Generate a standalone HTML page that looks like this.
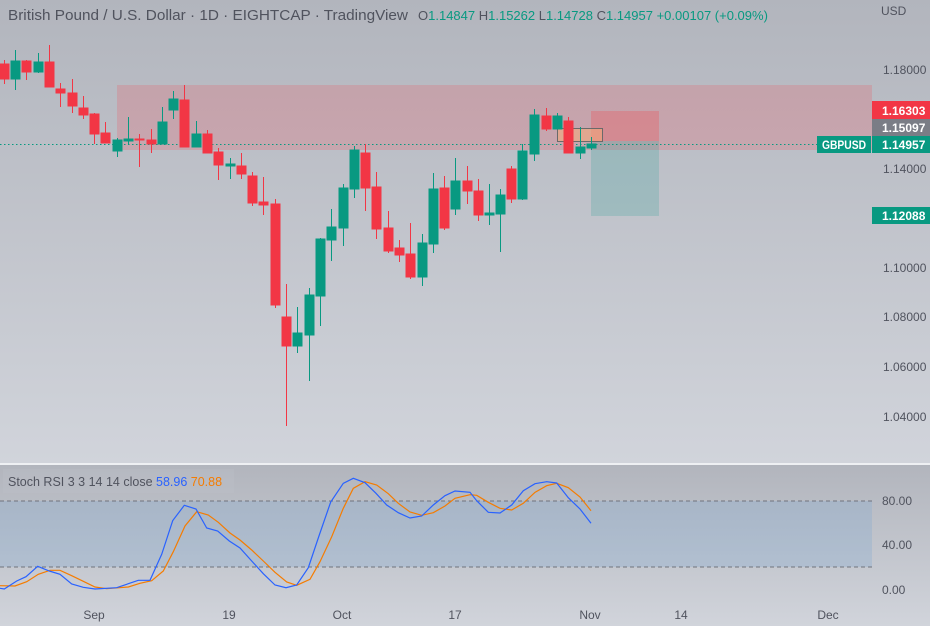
<!DOCTYPE html>
<html><head><meta charset="utf-8"><style>
html,body{margin:0;padding:0;width:930px;height:626px;overflow:hidden;font-family:"Liberation Sans",sans-serif;}
svg{display:block}
text{font-family:"Liberation Sans",sans-serif}
</style></head><body>
<svg width="930" height="626" xmlns="http://www.w3.org/2000/svg">
<defs>
<linearGradient id="bg1" x1="0" y1="0" x2="0" y2="1"><stop offset="0" stop-color="#b2b5bd"/><stop offset="1" stop-color="#d1d4db"/></linearGradient>
<linearGradient id="bg2" x1="0" y1="0" x2="0" y2="1"><stop offset="0" stop-color="#b2b5bd"/><stop offset="1" stop-color="#d1d4db"/></linearGradient>
</defs>
<rect x="0" y="0" width="930" height="463" fill="url(#bg1)"/>
<rect x="0" y="463" width="930" height="2" fill="#eef0f3"/>
<rect x="0" y="465" width="930" height="161" fill="url(#bg2)"/>

<rect x="117" y="85" width="755" height="65" fill="rgba(230,100,110,0.28)"/>
<rect x="591" y="111" width="68" height="30" fill="rgba(235,90,95,0.35)"/>
<rect x="591" y="141" width="68" height="75" fill="rgba(40,160,150,0.22)"/>
<rect x="557.5" y="128.5" width="45" height="13" fill="rgba(245,170,120,0.55)" stroke="#6a6a6a" stroke-width="1"/>

<line x1="0" y1="144.5" x2="870" y2="144.5" stroke="#089981" stroke-width="1" stroke-dasharray="1.5,2.5"/>

<g stroke="#f23645" fill="#f23645" stroke-width="1">
<line x1="4.5" y1="60" x2="4.5" y2="84"/><rect x="0" y="64" width="9" height="15"/>
<line x1="26.5" y1="60" x2="26.5" y2="80"/><rect x="22" y="61" width="9" height="11"/>
<line x1="49.5" y1="45" x2="49.5" y2="87"/><rect x="45" y="62" width="9" height="25"/>
<line x1="60.5" y1="83" x2="60.5" y2="107"/><rect x="56" y="89" width="9" height="4"/>
<line x1="72.5" y1="79" x2="72.5" y2="113"/><rect x="68" y="93" width="9" height="13"/>
<line x1="83.5" y1="96" x2="83.5" y2="119"/><rect x="79" y="108" width="9" height="7"/>
<line x1="94.5" y1="113" x2="94.5" y2="144"/><rect x="90" y="114" width="9" height="20"/>
<line x1="105.5" y1="122" x2="105.5" y2="143"/><rect x="101" y="133" width="9" height="10"/>
<line x1="139.5" y1="134" x2="139.5" y2="167"/><rect x="135" y="139" width="9" height="1"/>
<line x1="151.5" y1="129" x2="151.5" y2="153"/><rect x="147" y="140" width="9" height="4"/>
<line x1="184.5" y1="85" x2="184.5" y2="147"/><rect x="180" y="100" width="9" height="47"/>
<line x1="207.5" y1="130" x2="207.5" y2="153"/><rect x="203" y="134" width="9" height="19"/>
<line x1="218.5" y1="148" x2="218.5" y2="180"/><rect x="214" y="152" width="9" height="13"/>
<line x1="241.5" y1="153" x2="241.5" y2="179"/><rect x="237" y="166" width="9" height="8"/>
<line x1="252.5" y1="172" x2="252.5" y2="206"/><rect x="248" y="176" width="9" height="27"/>
<line x1="263.5" y1="177" x2="263.5" y2="215"/><rect x="259" y="202" width="9" height="3"/>
<line x1="275.5" y1="199" x2="275.5" y2="308"/><rect x="271" y="204" width="9" height="101"/>
<line x1="286.5" y1="284" x2="286.5" y2="426"/><rect x="282" y="317" width="9" height="29"/>
<line x1="365.5" y1="144" x2="365.5" y2="211"/><rect x="361" y="153" width="9" height="35"/>
<line x1="376.5" y1="172" x2="376.5" y2="239"/><rect x="372" y="187" width="9" height="42"/>
<line x1="388.5" y1="211" x2="388.5" y2="253"/><rect x="384" y="228" width="9" height="23"/>
<line x1="399.5" y1="240" x2="399.5" y2="262"/><rect x="395" y="248" width="9" height="7"/>
<line x1="410.5" y1="223" x2="410.5" y2="279"/><rect x="406" y="254" width="9" height="23"/>
<line x1="444.5" y1="176" x2="444.5" y2="230"/><rect x="440" y="188" width="9" height="40"/>
<line x1="467.5" y1="166" x2="467.5" y2="204"/><rect x="463" y="181" width="9" height="10"/>
<line x1="478.5" y1="179" x2="478.5" y2="221"/><rect x="474" y="191" width="9" height="24"/>
<line x1="511.5" y1="166" x2="511.5" y2="203"/><rect x="507" y="169" width="9" height="30"/>
<line x1="546.5" y1="108" x2="546.5" y2="131"/><rect x="542" y="116" width="9" height="13"/>
<line x1="568.5" y1="117" x2="568.5" y2="153"/><rect x="564" y="121" width="9" height="32"/>
</g>
<g stroke="#089981" fill="#089981" stroke-width="1">
<line x1="15.5" y1="50" x2="15.5" y2="90"/><rect x="11" y="61" width="9" height="18"/>
<line x1="38.5" y1="53" x2="38.5" y2="73"/><rect x="34" y="62" width="9" height="10"/>
<line x1="117.5" y1="138" x2="117.5" y2="157"/><rect x="113" y="140" width="9" height="11"/>
<line x1="128.5" y1="117" x2="128.5" y2="145"/><rect x="124" y="139" width="9" height="2"/>
<line x1="162.5" y1="107" x2="162.5" y2="144"/><rect x="158" y="122" width="9" height="22"/>
<line x1="173.5" y1="91" x2="173.5" y2="119"/><rect x="169" y="99" width="9" height="11"/>
<line x1="196.5" y1="121" x2="196.5" y2="147"/><rect x="192" y="134" width="9" height="13"/>
<line x1="230.5" y1="158" x2="230.5" y2="179"/><rect x="226" y="164" width="9" height="2"/>
<line x1="297.5" y1="307" x2="297.5" y2="353"/><rect x="293" y="333" width="9" height="13"/>
<line x1="309.5" y1="288" x2="309.5" y2="381"/><rect x="305" y="295" width="9" height="40"/>
<line x1="320.5" y1="238" x2="320.5" y2="326"/><rect x="316" y="239" width="9" height="57"/>
<line x1="331.5" y1="209" x2="331.5" y2="261"/><rect x="327" y="227" width="9" height="13"/>
<line x1="343.5" y1="184" x2="343.5" y2="246"/><rect x="339" y="188" width="9" height="40"/>
<line x1="354.5" y1="146" x2="354.5" y2="198"/><rect x="350" y="150" width="9" height="39"/>
<line x1="422.5" y1="234" x2="422.5" y2="286"/><rect x="418" y="243" width="9" height="34"/>
<line x1="433.5" y1="173" x2="433.5" y2="253"/><rect x="429" y="189" width="9" height="55"/>
<line x1="455.5" y1="158" x2="455.5" y2="215"/><rect x="451" y="181" width="9" height="28"/>
<line x1="489.5" y1="184" x2="489.5" y2="225"/><rect x="485" y="213" width="9" height="2"/>
<line x1="500.5" y1="189" x2="500.5" y2="252"/><rect x="496" y="195" width="9" height="19"/>
<line x1="522.5" y1="144" x2="522.5" y2="200"/><rect x="518" y="151" width="9" height="48"/>
<line x1="534.5" y1="109" x2="534.5" y2="161"/><rect x="530" y="115" width="9" height="39"/>
<line x1="557.5" y1="113" x2="557.5" y2="129"/><rect x="553" y="116" width="9" height="13"/>
<line x1="580.5" y1="127" x2="580.5" y2="159"/><rect x="576" y="147" width="9" height="6"/>
<line x1="591.5" y1="137" x2="591.5" y2="150"/><rect x="587" y="144" width="9" height="4"/>
</g>

<text x="8" y="20" font-size="15" fill="#50535e" textLength="400" lengthAdjust="spacingAndGlyphs">British Pound / U.S. Dollar · 1D · EIGHTCAP · TradingView</text>
<text x="418" y="20" font-size="13" fill="#50535e">O<tspan fill="#089981">1.14847</tspan> H<tspan fill="#089981">1.15262</tspan> L<tspan fill="#089981">1.14728</tspan> C<tspan fill="#089981">1.14957</tspan> <tspan fill="#089981">+0.00107 (+0.09%)</tspan></text>
<text x="881" y="15" font-size="12" fill="#50535e">USD</text>

<g font-size="12" fill="#50535e">
<text x="883" y="74">1.18000</text>
<text x="883" y="173">1.14000</text>
<text x="883" y="272">1.10000</text>
<text x="883" y="321">1.08000</text>
<text x="883" y="371">1.06000</text>
<text x="883" y="421">1.04000</text>
</g>
<rect x="872" y="101" width="58" height="18" fill="#f23645"/>
<text x="882" y="115" font-size="12" font-weight="bold" fill="#fff">1.16303</text>
<rect x="872" y="119" width="58" height="17" fill="#7a7d86"/>
<text x="882" y="132" font-size="12" font-weight="bold" fill="#fff">1.15097</text>
<rect x="817" y="136" width="54" height="17" fill="#089981"/>
<text x="822" y="149" font-size="12" font-weight="bold" fill="#fff" textLength="44" lengthAdjust="spacingAndGlyphs">GBPUSD</text>
<rect x="872" y="136" width="58" height="17" fill="#089981"/>
<text x="882" y="149" font-size="12" font-weight="bold" fill="#fff">1.14957</text>
<rect x="872" y="207" width="58" height="17" fill="#089981"/>
<text x="882" y="220" font-size="12" font-weight="bold" fill="#fff">1.12088</text>

<rect x="0" y="501" width="872" height="66" fill="rgba(130,170,210,0.3)"/>
<line x1="0" y1="501" x2="872" y2="501" stroke="#70737c" stroke-dasharray="4,3"/>
<line x1="0" y1="567" x2="872" y2="567" stroke="#70737c" stroke-dasharray="4,3"/>
<rect x="3" y="469" width="231" height="24" fill="rgba(190,193,200,0.35)"/>
<text x="8" y="486" font-size="12.5" fill="#50535e">Stoch RSI 3 3 14 14 close <tspan fill="#2962ff">58.96</tspan> <tspan fill="#f57c00">70.88</tspan></text>
<g fill="none" stroke-width="1.2">
<polyline stroke="#f57c00" points="0,585.7 15,586 26.7,581.7 38.3,574.3 50,570.3 60,570.3 71.7,575.7 83.3,581.3 95,587 106.7,588.7 128.3,587 140,583.3 151.7,580.7 163.3,571 173.3,551.7 185,526 196.7,511.7 208.3,515 218.3,522.3 230,533 240,540 251.7,550 263.3,561 275,572.3 286.7,582 296.7,585.3 310,579.3 320,561.7 331.7,536.7 343.3,508.3 353.3,488.3 365,481.7 376.7,485 388.3,493.7 398.3,503.3 410,512 421.7,515.3 433.3,512.7 445,506 455,498.3 470,494.7 476.7,495.3 488.3,502.3 500,508.3 511.7,510 523.3,503.3 535,492.3 546.7,485.7 556.7,483.3 568.3,487.7 580,497 591,510.7"/>
<polyline stroke="#2962ff" points="0,588.3 4.3,589 16.7,581 26,576.7 37.7,566.3 49.3,571 60,574.3 71.7,584 83.3,587.3 95,589 116.7,587.7 138.3,580.3 150,580.3 161.7,554.3 172.7,520.7 184.3,505.3 196,509 206.7,528 217.7,531 229.3,541 240,548 251.7,561 263.3,573.7 275,585 286,587.7 296.7,585 308.3,567.7 319.3,535 330.7,502 343.3,483.3 353.3,478.3 365,482.7 376,493.3 386.7,505 398.3,512.7 410,518 421.7,516 433.3,505 445,495.7 455,491 470,492.3 476.7,500.7 488.3,512.3 500,513 511.7,505 523.3,490.7 535,483.7 546.7,481.7 556.7,483 568.3,497.7 580,509 591,523.3"/>
</g>
<g font-size="12" fill="#50535e">
<text x="882" y="505">80.00</text>
<text x="882" y="549">40.00</text>
<text x="882" y="594">0.00</text>
</g>
<g font-size="12" fill="#50535e" text-anchor="middle">
<text x="94" y="619">Sep</text>
<text x="229" y="619">19</text>
<text x="342" y="619">Oct</text>
<text x="455" y="619">17</text>
<text x="590" y="619">Nov</text>
<text x="681" y="619">14</text>
<text x="828" y="619">Dec</text>
</g>
</svg>
</body></html>
